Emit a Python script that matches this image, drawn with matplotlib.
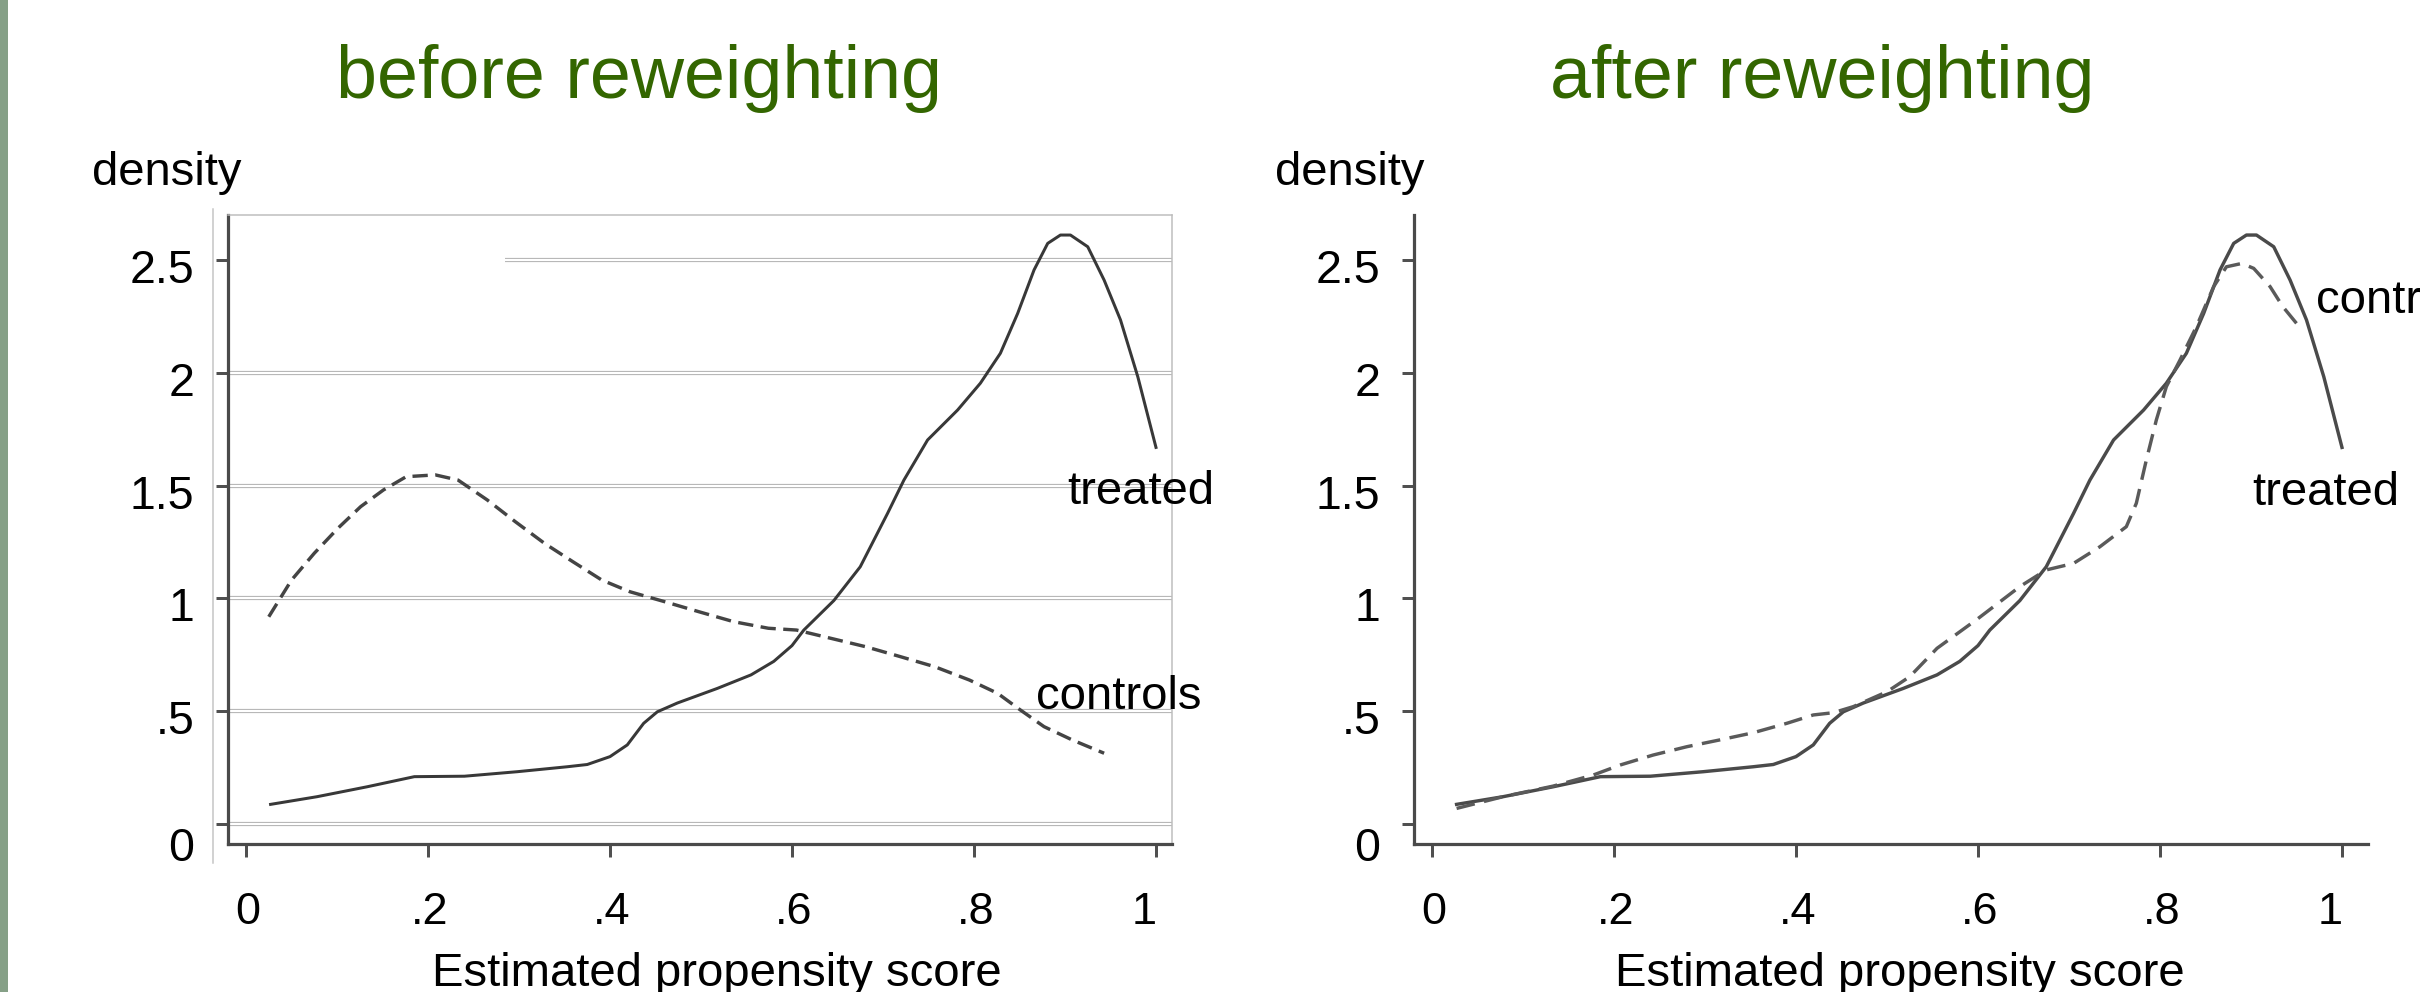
import numpy as np
import matplotlib
matplotlib.use("Agg")
import matplotlib.pyplot as plt
import matplotlib.transforms as mtransforms
from matplotlib.lines import Line2D
from matplotlib.patches import Rectangle

plt.rcParams['font.family'] = ['Liberation Sans', 'DejaVu Sans']

# ---------------- data ----------------
treated_x = [0.027, 0.078, 0.133, 0.185, 0.240, 0.298, 0.353, 0.375, 0.400, 0.419,
             0.437, 0.452, 0.474, 0.518, 0.555, 0.580, 0.600, 0.613, 0.646, 0.675,
             0.705, 0.723, 0.749, 0.782, 0.807, 0.829, 0.848, 0.866, 0.881, 0.895,
             0.906, 0.925, 0.943, 0.961, 0.980, 1.000]
treated_y = [0.085, 0.119, 0.163, 0.208, 0.210, 0.230, 0.252, 0.262, 0.297, 0.349,
             0.445, 0.496, 0.535, 0.600, 0.660, 0.720, 0.790, 0.859, 0.990, 1.140,
             1.377, 1.525, 1.703, 1.836, 1.955, 2.088, 2.265, 2.458, 2.576, 2.613,
             2.613, 2.561, 2.413, 2.236, 1.984, 1.670]

controls_before_x = [0.025, 0.050, 0.075, 0.101, 0.126, 0.151, 0.176, 0.208, 0.233, 0.265,
                     0.296, 0.328, 0.359, 0.391, 0.422, 0.460, 0.498, 0.536, 0.574, 0.605,
                     0.643, 0.681, 0.719, 0.757, 0.795, 0.826, 0.851, 0.877, 0.908, 0.943]
controls_before_y = [0.918, 1.081, 1.200, 1.311, 1.407, 1.481, 1.540, 1.548, 1.525, 1.437,
                     1.340, 1.244, 1.163, 1.081, 1.029, 0.985, 0.940, 0.896, 0.867, 0.859,
                     0.822, 0.785, 0.741, 0.696, 0.637, 0.578, 0.504, 0.430, 0.371, 0.312]

controls_after_x = [0.027, 0.078, 0.133, 0.177, 0.207, 0.243, 0.280, 0.316, 0.353, 0.390,
                    0.419, 0.441, 0.463, 0.500, 0.525, 0.555, 0.600, 0.646, 0.675, 0.705,
                    0.734, 0.763, 0.774, 0.785, 0.796, 0.807, 0.822, 0.840, 0.859, 0.873,
                    0.890, 0.903, 0.921, 0.935, 0.950]
controls_after_y = [0.067, 0.119, 0.166, 0.215, 0.260, 0.304, 0.341, 0.371, 0.403, 0.445,
                    0.482, 0.492, 0.519, 0.585, 0.652, 0.778, 0.910, 1.052, 1.126, 1.155,
                    1.229, 1.318, 1.422, 1.614, 1.792, 1.940, 2.058, 2.206, 2.384, 2.472,
                    2.487, 2.465, 2.384, 2.295, 2.221]

x_ticks = [0, 0.2, 0.4, 0.6, 0.8, 1.0]
x_ticklabels = ['0', '.2', '.4', '.6', '.8', '1']
y_ticks = [0, 0.5, 1.0, 1.5, 2.0, 2.5]
y_ticklabels = ['0', '.5', '1', '1.5', '2', '2.5']
grid_levels = [0, 0.5, 1.0, 1.5, 2.0, 2.5]
grid_starts = [None, None, None, None, None, 0.285]

titles = ['before reweighting', 'after reweighting']
xlabel = 'Estimated propensity score'
ylabel = 'density'

# ---------------- figure ----------------
W, H = 2420, 992
fig = plt.figure(figsize=(W / 100, H / 100), dpi=100)
fig.patch.set_facecolor('white')

def fx(px):
    return px / W

def fy(py):
    return 1 - py / H

ax_l = fig.add_axes([fx(228), fy(844), fx(944), 629 / H])
ax_r = fig.add_axes([fx(1414), fy(844), fx(954), 629 / H])

spine_col = '#4a4a4a'
line_col = '#383838'
PX = 0.72  # points per pixel at dpi 100

for ax, xr in ((ax_l, (-0.0198, 1.0176)), (ax_r, (-0.0198, 1.0286))):
    ax.set_xlim(*xr)
    ax.set_ylim(-0.091, 2.702)
    ax.set_facecolor('none')
    ax.set_xticks(x_ticks)
    ax.set_xticklabels(x_ticklabels)
    ax.set_yticks(y_ticks)
    ax.set_yticklabels(y_ticklabels)
    ax.tick_params(axis='x', direction='out', length=13 * PX, width=3 * PX,
                   color='#505050', pad=25, labelsize=32.5, labelcolor='black')
    ax.tick_params(axis='y', direction='out', length=12 * PX, width=3 * PX,
                   color='#505050', pad=15.5, labelsize=33.5, labelcolor='black')
    for s in ('left', 'bottom'):
        ax.spines[s].set_color(spine_col)
        ax.spines[s].set_linewidth(3.2 * PX)
    # shift tick labels slightly as in reference
    for lab, t in zip(ax.get_yticklabels(), y_ticks):
        dy = -20 if t == 0 else -6
        lab.set_transform(lab.get_transform() +
                          mtransforms.ScaledTranslation(0, dy / 100, fig.dpi_scale_trans))
    for lab, t in zip(ax.get_xticklabels(), x_ticks):
        dx = -12 if t == 1.0 else 2
        lab.set_transform(lab.get_transform() +
                          mtransforms.ScaledTranslation(dx / 100, 0, fig.dpi_scale_trans))

# left panel frame (light gray top / right)
for s in ('top', 'right'):
    ax_l.spines[s].set_color('#bdbdbd')
    ax_l.spines[s].set_linewidth(1.5 * PX)
for s in ('top', 'right'):
    ax_r.spines[s].set_visible(False)

# left panel double gridlines
for lev, st in zip(grid_levels, grid_starts):
    x0 = ax_l.get_xlim()[0] if st is None else st
    x1 = ax_l.get_xlim()[1]
    ax_l.plot([x0, x1], [lev, lev], color='#b8b8b8', lw=4.2 * PX, solid_capstyle='butt', zorder=1)
    ax_l.plot([x0, x1], [lev, lev], color='white', lw=2.0 * PX, solid_capstyle='butt', zorder=1.1)

# curves
ax_l.plot(treated_x, treated_y, color=line_col, lw=3.0 * PX, zorder=3,
          solid_joinstyle='round')
ax_l.plot(controls_before_x, controls_before_y, color='#444444', lw=3.4 * PX,
          dashes=(4.5, 2.2), zorder=3)
ax_r.plot(treated_x, treated_y, color='#4a4a4a', lw=3.4 * PX, zorder=3,
          solid_joinstyle='round')
ax_r.plot(controls_after_x, controls_after_y, color='#5a5a5a', lw=3.4 * PX,
          dashes=(5.5, 2.8), zorder=3)

# curve labels
ax_l.text(0.902, 1.42, 'treated', fontsize=34, va='baseline', ha='left')
ax_l.text(0.868, 0.507, 'controls', fontsize=34, va='baseline', ha='left')
ax_r.text(0.901, 1.415, 'treated', fontsize=34, va='baseline', ha='left')
ax_r.text(0.971, 2.267, 'controls', fontsize=34, va='baseline', ha='left', clip_on=False)

# titles, axis labels
fig.text(fx(638.5), fy(98), titles[0], fontsize=53, color='#336600', ha='center', va='baseline')
fig.text(fx(1822), fy(98), titles[1], fontsize=53, color='#336600', ha='center', va='baseline')
fig.text(fx(92), fy(185), ylabel, fontsize=34, ha='left', va='baseline')
fig.text(fx(1275), fy(185), ylabel, fontsize=34, ha='left', va='baseline')
fig.text(fx(716.5), fy(986), xlabel, fontsize=34, ha='center', va='baseline')
fig.text(fx(1900), fy(986), xlabel, fontsize=34, ha='center', va='baseline')

# decorative outer light line left of left panel, and green edge strip
fig.add_artist(Line2D([fx(213), fx(213)], [fy(209), fy(863)], color='#c4c4c4', lw=1.5 * PX))
fig.add_artist(Rectangle((0, 0), fx(8), 1, transform=fig.transFigure,
                         facecolor='#86a087', edgecolor='none'))

fig.savefig('out.png', dpi=100, facecolor='white')
